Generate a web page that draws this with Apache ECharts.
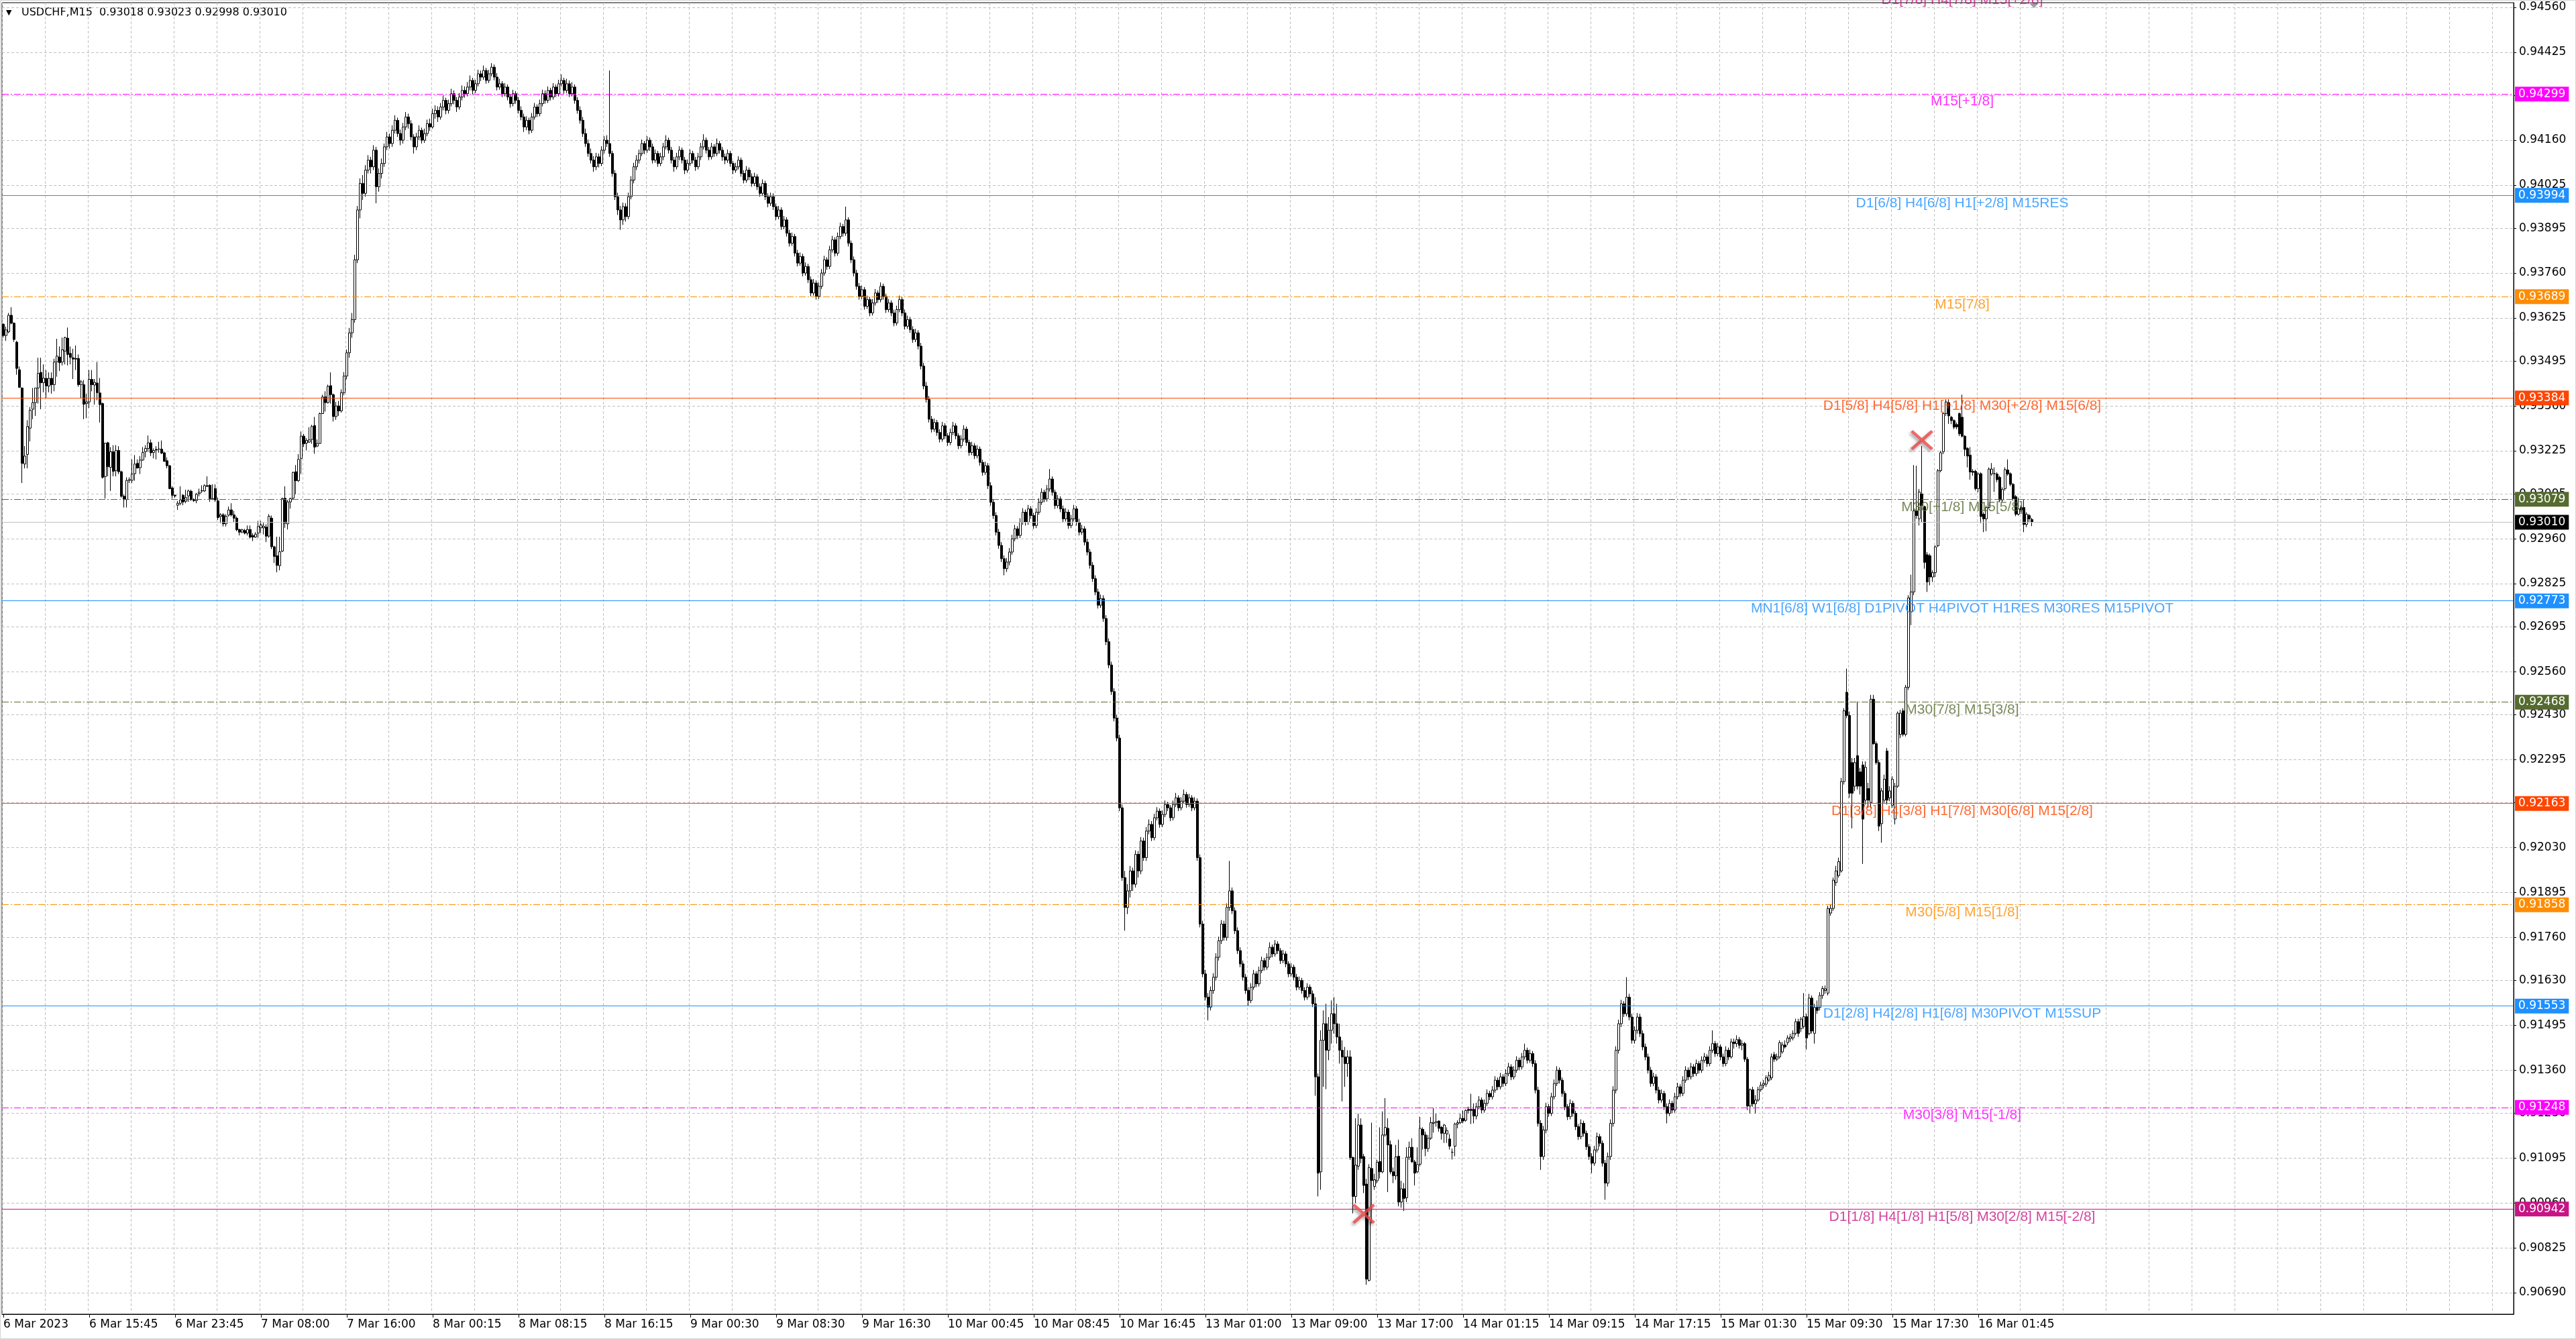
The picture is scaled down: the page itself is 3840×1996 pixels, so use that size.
<!DOCTYPE html>
<html><head><meta charset="utf-8">
<script src="https://cdn.jsdelivr.net/npm/echarts@6/dist/echarts.min.js"></script>
<style>html,body{margin:0;padding:0;background:#fff;overflow:hidden}#chart{width:3840px;height:1996px}</style>
</head><body><div id="chart"></div>
<script>
// ---------------- DATA ----------------
const symbolName = 'USDCHF,M15';
const timeLabels = ['6 Mar 2023','6 Mar 15:45','6 Mar 23:45','7 Mar 08:00','7 Mar 16:00','8 Mar 00:15','8 Mar 08:15','8 Mar 16:15','9 Mar 00:30','9 Mar 08:30','9 Mar 16:30','10 Mar 00:45','10 Mar 08:45','10 Mar 16:45','13 Mar 01:00','13 Mar 09:00','13 Mar 17:00','14 Mar 01:15','14 Mar 09:15','14 Mar 17:15','15 Mar 01:30','15 Mar 09:30','15 Mar 17:30','16 Mar 01:45'];
const priceTicks = [0.94560,0.94425,0.94295,0.94160,0.94025,0.93895,0.93760,0.93625,0.93495,0.93360,0.93225,0.93095,0.92960,0.92825,0.92695,0.92560,0.92430,0.92295,0.92165,0.92030,0.91895,0.91760,0.91630,0.91495,0.91360,0.91230,0.91095,0.90960,0.90825,0.90690];
const levelPrices = [0.94299,0.93994,0.93689,0.93384,0.93079,0.92773,0.92468,0.92163,0.91858,0.91553,0.91248,0.90942];
const levelTexts = ['M15[+1/8]','D1[6/8] H4[6/8] H1[+2/8] M15RES','M15[7/8]','D1[5/8] H4[5/8] H1[+1/8] M30[+2/8] M15[6/8]','M30[+1/8] M15[5/8]','MN1[6/8] W1[6/8] D1PIVOT H4PIVOT H1RES M30RES M15PIVOT','M30[7/8] M15[3/8]','D1[3/8] H4[3/8] H1[7/8] M30[6/8] M15[2/8]','M30[5/8] M15[1/8]','D1[2/8] H4[2/8] H1[6/8] M30PIVOT M15SUP','M30[3/8] M15[-1/8]','D1[1/8] H4[1/8] H1[5/8] M30[2/8] M15[-2/8]'];
const levelKinds = ['magenta','blue','orange','red','olive','blue','olive','red','orange','blue','magenta','violet'];
const topLevelPrice = 0.94604;
const topLevelText = 'D1[7/8] H4[7/8] M15[+2/8]';
const currentPrice = 0.93010;
const markerBars = [507, 715];
const markerPrices = [0.90928, 0.93257];
// bars: [open, high, low, close] in units of 0.00001 above 0.90000
const candles = [
[3606,3609,3566,3572],[3572,3599,3556,3589],[3583,3640,3579,3633],[3633,3657,3606,3609],[3609,3612,3553,3560],[3552,3556,3454,3473],[3469,3479,3414,3416],[3414,3416,3128,3187],
[3185,3239,3172,3209],[3214,3317,3172,3298],[3293,3357,3253,3347],[3350,3414,3320,3370],[3370,3414,3330,3414],[3414,3505,3367,3458],[3461,3505,3350,3430],[3430,3485,3401,3444],
[3443,3468,3384,3420],[3420,3461,3401,3443],[3443,3461,3397,3424],[3424,3502,3404,3492],[3493,3562,3448,3510],[3507,3539,3465,3490],[3492,3566,3482,3529],[3525,3568,3485,3566],
[3564,3596,3482,3515],[3518,3539,3485,3506],[3505,3532,3441,3501],[3503,3542,3468,3501],[3503,3515,3418,3424],[3424,3438,3384,3433],[3424,3438,3320,3365],[3367,3397,3323,3372],
[3372,3468,3354,3440],[3440,3468,3404,3424],[3423,3441,3364,3431],[3429,3492,3377,3400],[3399,3444,3310,3364],[3367,3370,3141,3145],[3147,3249,3081,3248],[3249,3252,3148,3177],
[3175,3236,3104,3222],[3222,3242,3148,3163],[3165,3242,3148,3226],[3226,3239,3155,3162],[3162,3165,3084,3088],[3088,3094,3054,3078],[3078,3145,3054,3136],[3136,3145,3128,3138],
[3136,3199,3128,3155],[3156,3212,3135,3185],[3187,3199,3172,3173],[3174,3209,3155,3197],[3197,3236,3195,3220],[3222,3242,3205,3232],[3232,3271,3222,3249],[3249,3259,3209,3219],
[3220,3232,3202,3226],[3229,3239,3199,3227],[3230,3252,3219,3230],[3230,3256,3215,3218],[3219,3222,3192,3193],[3195,3205,3172,3180],[3180,3182,3109,3111],[3113,3118,3081,3091],
[3091,3094,3084,3089],[3061,3074,3047,3067],[3067,3118,3061,3077],[3091,3094,3061,3071],[3073,3108,3067,3084],[3089,3108,3071,3104],[3103,3108,3074,3078],[3078,3082,3071,3075],
[3075,3098,3067,3094],[3096,3111,3088,3100],[3104,3121,3098,3105],[3104,3124,3101,3120],[3120,3148,3116,3118],[3121,3124,3071,3081],[3079,3124,3077,3081],[3111,3124,3071,3077],
[3074,3084,3017,3024],[3027,3037,3007,3032],[3032,3037,2997,3005],[3005,3034,2997,3028],[3031,3057,3027,3047],[3047,3067,3027,3032],[3032,3044,3010,3022],[3022,3027,2983,2987],
[2988,2990,2970,2980],[2980,2990,2977,2987],[2985,2990,2973,2977],[2977,3000,2970,2988],[2988,3000,2961,2965],[2970,2977,2953,2965],[2965,2980,2963,2974],[2977,3014,2963,2997],
[2993,3014,2977,3002],[2993,3008,2973,2998],[2995,3004,2950,2968],[2968,3034,2963,3028],[3022,3030,2929,2936],[2936,2939,2887,2907],[2909,2966,2859,2880],[2879,2966,2865,2921],
[2923,3084,2920,3081],[3082,3118,2993,3007],[3005,3077,2988,3071],[3071,3084,3051,3081],[3082,3162,3077,3160],[3162,3182,3094,3135],[3135,3215,3131,3199],[3202,3283,3155,3269],
[3269,3276,3236,3246],[3248,3263,3226,3256],[3251,3296,3249,3258],[3259,3303,3246,3298],[3301,3327,3216,3236],[3239,3259,3236,3247],[3247,3340,3246,3337],[3337,3394,3337,3387],
[3387,3404,3343,3370],[3370,3424,3367,3419],[3421,3461,3367,3394],[3394,3397,3313,3328],
[3328,3372,3318,3360],[3360,3375,3330,3345],[3345,3410,3340,3400],[3400,3462,3392,3450],[3450,3530,3440,3520],[3520,3595,3505,3580],[3580,3640,3565,3620],[3620,3815,3610,3800],
[3800,3962,3790,3950],[3950,4045,3925,4030],[4030,4055,3980,4000],[4000,4085,3990,4070],
[4070,4115,4060,4100],[4100,4110,4060,4080],[4080,4145,4070,4130],[4130,4140,3970,4020],[4020,4075,4005,4060],[4060,4105,4045,4090],[4090,4150,4080,4140],[4140,4185,4130,4170],
[4170,4180,4135,4150],[4150,4205,4140,4190],[4190,4235,4180,4220],[4220,4228,4170,4180],[4180,4192,4145,4160],[4160,4212,4150,4200],[4200,4245,4190,4230],[4230,4240,4195,4210],
[4210,4220,4160,4170],[4170,4178,4120,4140],[4140,4182,4130,4170],[4170,4205,4160,4190],[4190,4198,4150,4160],[4160,4195,4152,4180],[4180,4222,4172,4210],[4210,4225,4188,4200],
[4200,4255,4195,4240],[4240,4265,4225,4250],
[4250,4262,4215,4230],[4230,4272,4222,4260],[4260,4295,4250,4280],[4280,4288,4238,4250],[4250,4282,4240,4270],[4270,4315,4262,4300],[4300,4310,4268,4280],[4280,4290,4245,4260],
[4260,4302,4252,4290],[4290,4325,4280,4310],[4310,4322,4288,4300],[4300,4335,4292,4320],[4320,4355,4310,4340],[4340,4348,4298,4310],[4310,4342,4302,4330],[4330,4372,4322,4360],
[4360,4370,4338,4350],[4350,4385,4342,4370],[4370,4378,4330,4340],[4340,4372,4332,4360],[4360,4392,4352,4380],
[4380,4388,4340,4350],[4350,4362,4310,4320],[4320,4345,4312,4330],[4330,4338,4290,4300],[4300,4332,4292,4320],[4320,4328,4280,4290],[4290,4298,4258,4270],[4270,4312,4262,4300],
[4300,4308,4270,4280],[4280,4290,4240,4250],[4250,4262,4220,4230],[4230,4240,4185,4200],[4200,4232,4190,4220],[4220,4228,4178,4190],[4190,4242,4182,4230],[4230,4272,4222,4260],
[4260,4268,4230,4240],[4240,4282,4232,4270],[4270,4312,4262,4300],[4300,4310,4270,4280],[4280,4322,4272,4310],[4310,4318,4280,4290],[4290,4332,4282,4320],[4320,4328,4290,4300],
[4300,4342,4292,4330],[4330,4358,4322,4340],[4340,4348,4300,4310],[4310,4345,4302,4330],
[4330,4340,4290,4300],[4300,4335,4292,4320],[4320,4328,4270,4280],[4280,4290,4240,4250],[4250,4262,4210,4220],[4220,4230,4170,4180],[4180,4195,4140,4150],[4150,4162,4110,4120],
[4120,4135,4090,4100],[4100,4112,4065,4080],[4080,4122,4070,4110],[4110,4120,4078,4090],[4090,4142,4082,4130],[4130,4172,4120,4160],[4160,4175,4140,4150],[4150,4370,4110,4120],
[4120,4128,4050,4060],[4060,4070,3980,3990],[3990,4002,3935,3950],[3950,3962,3890,3920],[3920,3972,3905,3960],[3960,3970,3915,3930],[3930,4002,3922,3990],[3990,4052,3982,4040],
[4040,4092,4030,4080],[4080,4115,4070,4100],[4100,4132,4090,4120],
[4120,4162,4112,4150],[4150,4158,4118,4130],[4130,4172,4122,4160],[4160,4168,4128,4140],[4140,4150,4090,4100],[4100,4132,4092,4120],[4120,4128,4080,4090],[4090,4122,4082,4110],
[4110,4152,4100,4140],[4140,4175,4132,4160],[4160,4168,4120,4130],[4130,4140,4090,4100],[4100,4110,4065,4080],[4080,4122,4072,4110],[4110,4142,4100,4130],[4130,4138,4090,4100],
[4100,4110,4058,4070],[4070,4102,4062,4090],[4090,4132,4082,4120],[4120,4128,4090,4100],[4100,4110,4068,4080],[4080,4122,4072,4110],[4110,4152,4100,4140],[4140,4178,4132,4160],
[4160,4168,4120,4130],[4130,4140,4100,4110],[4110,4152,4102,4140],[4140,4148,4110,4120],[4120,4165,4112,4150],[4150,4158,4120,4130],[4130,4140,4098,4110],
[4110,4120,4088,4100],[4100,4132,4092,4120],[4120,4128,4080,4090],[4090,4098,4058,4070],[4070,4092,4062,4080],[4080,4112,4072,4100],[4100,4108,4050,4060],[4060,4070,4030,4040],
[4040,4082,4032,4070],[4070,4078,4040,4050],[4050,4060,4020,4030],[4030,4062,4022,4050],[4050,4058,4010,4020],[4020,4030,3990,4000],[4000,4042,3992,4030],[4030,4038,3980,3990],
[3990,4000,3958,3970],[3970,4002,3962,3990],
[3990,4000,3950,3960],[3960,3970,3920,3930],[3930,3962,3922,3950],[3950,3958,3890,3900],[3900,3932,3892,3920],[3920,3928,3870,3880],[3880,3890,3840,3850],[3850,3882,3842,3870],
[3870,3878,3810,3820],[3820,3830,3780,3790],[3790,3822,3782,3810],[3810,3818,3750,3760],[3760,3792,3752,3780],[3780,3788,3730,3740],[3740,3750,3690,3700],[3700,3742,3692,3730],
[3730,3738,3680,3690],[3690,3732,3682,3720],[3720,3772,3712,3760],
[3760,3812,3752,3800],[3800,3808,3770,3780],[3780,3842,3772,3830],[3830,3872,3822,3860],[3860,3868,3810,3820],[3820,3882,3812,3870],[3870,3912,3862,3900],[3900,3908,3870,3880],
[3880,3960,3872,3920],[3920,3928,3840,3850],[3850,3858,3790,3800],[3800,3810,3750,3760],
[3760,3770,3710,3720],[3720,3730,3680,3690],[3690,3722,3682,3710],[3710,3718,3650,3660],[3660,3692,3652,3680],[3680,3688,3630,3640],[3640,3682,3632,3670],[3670,3712,3662,3700],
[3700,3708,3670,3680],[3680,3732,3672,3720],[3720,3728,3680,3690],[3690,3698,3640,3650],[3650,3682,3642,3670],[3670,3678,3630,3640],[3640,3650,3600,3610],[3610,3662,3602,3650],
[3650,3692,3642,3680],[3680,3688,3630,3640],[3640,3650,3590,3600],[3600,3632,3592,3620],[3620,3628,3580,3590],[3590,3600,3550,3560],[3560,3592,3552,3580],[3580,3588,3530,3540],
[3540,3550,3470,3480],[3480,3490,3410,3420],[3420,3432,3370,3380],[3380,3390,3310,3320],[3320,3330,3280,3290],[3290,3322,3282,3310],[3310,3318,3270,3280],[3280,3290,3250,3260],
[3260,3312,3252,3300],[3300,3308,3260,3270],
[3270,3278,3240,3250],[3250,3292,3242,3280],[3280,3312,3272,3300],[3300,3308,3260,3270],[3270,3278,3230,3240],[3240,3272,3232,3260],[3260,3302,3252,3290],[3290,3298,3240,3250],
[3250,3258,3210,3220],[3220,3252,3212,3240],[3240,3248,3200,3210],[3210,3242,3202,3230],[3230,3238,3180,3190],[3190,3198,3150,3160],[3160,3192,3152,3180],
[3180,3188,3110,3120],[3120,3130,3060,3070],[3070,3080,3020,3030],[3030,3040,2970,2980],[2980,2990,2930,2940],[2940,2950,2890,2900],[2900,2910,2850,2870],[2870,2902,2860,2890],
[2890,2932,2880,2920],
[2920,2972,2912,2960],[2960,3002,2952,2990],[2990,2998,2960,2970],[2970,3022,2962,3010],[3010,3052,3002,3040],[3040,3048,3000,3010],[3010,3062,3002,3050],[3050,3058,3020,3030],
[3030,3038,2990,3000],[3000,3052,2992,3040],[3040,3082,3032,3070],[3070,3112,3062,3100],[3100,3108,3070,3080],[3080,3122,3072,3110],[3110,3170,3102,3140],[3140,3148,3090,3100],
[3100,3108,3050,3060],[3060,3092,3052,3080],
[3080,3088,3040,3050],[3050,3060,3010,3020],[3020,3052,3012,3040],[3040,3048,2990,3000],[3000,3032,2992,3020],[3020,3062,3012,3050],[3050,3058,3000,3010],[3010,3020,2970,2980],
[2980,3002,2972,2990],[2990,2998,2940,2950],[2950,2960,2910,2920],[2920,2930,2870,2880],[2880,2890,2830,2840],
[2840,2850,2790,2800],[2800,2810,2750,2760],[2760,2792,2752,2780],[2780,2790,2710,2720],[2720,2730,2640,2650],[2650,2660,2570,2580],[2580,2590,2490,2500],[2500,2510,2410,2420],
[2420,2430,2350,2360],
[2360,2370,2140,2150],[2150,2160,1930,1940],[1940,1960,1780,1850],[1850,1920,1830,1900],[1900,1975,1880,1960],
[1960,1970,1900,1920],[1920,2022,1910,2010],[2010,2020,1940,1960],[1960,2062,1950,2050],[2050,2060,1990,2000],[2000,2092,1990,2080],[2080,2115,2070,2100],
[2100,2110,2050,2060],[2060,2132,2052,2120],[2120,2152,2112,2140],[2140,2148,2090,2100],[2100,2142,2092,2130],[2130,2172,2122,2160],[2160,2168,2140,2150],[2150,2158,2110,2120],
[2120,2172,2112,2160],[2160,2195,2152,2180],[2180,2188,2140,2150],[2150,2182,2142,2170],[2170,2205,2162,2190],[2190,2198,2150,2160],[2160,2192,2152,2180],[2180,2188,2140,2150],
[2150,2182,2142,2170],
[2170,2178,1990,2000],[2000,2010,1790,1800],[1800,1810,1640,1650],[1650,1662,1570,1580],[1580,1592,1510,1550],[1550,1612,1540,1600],[1600,1652,1590,1640],[1640,1712,1630,1700],
[1700,1762,1690,1750],[1750,1812,1740,1800],[1800,1810,1750,1760],[1760,1862,1750,1850],[1850,1990,1840,1900],[1900,1910,1830,1840],[1840,1850,1770,1780],[1780,1790,1710,1720],
[1720,1730,1670,1680],
[1680,1690,1630,1640],[1640,1650,1590,1600],[1600,1610,1555,1570],[1570,1622,1562,1610],[1610,1662,1602,1650],[1650,1658,1610,1620],[1620,1672,1612,1660],[1660,1702,1652,1690],
[1690,1698,1660,1670],[1670,1712,1662,1700],[1700,1745,1692,1730],[1730,1738,1700,1710],[1710,1752,1702,1740],[1740,1748,1710,1720],[1720,1728,1680,1690],[1690,1722,1682,1710],
[1710,1718,1670,1680],[1680,1688,1640,1650],[1650,1682,1642,1670],[1670,1678,1630,1640],[1640,1650,1600,1610],[1610,1642,1602,1630],[1630,1638,1590,1600],[1600,1610,1570,1580],
[1580,1622,1572,1610],[1610,1618,1580,1590],[1590,1600,1550,1560],
[1560,1580,1283,1340],[1340,1350,980,1050],[1054,1480,1000,1450],[1450,1540,1310,1500],[1500,1560,1303,1420],[1420,1520,1390,1480],[1480,1570,1440,1530],[1530,1580,1470,1500],
[1500,1560,1440,1460],[1460,1500,1380,1420],[1420,1450,1266,1400],[1400,1430,1310,1380],[1380,1420,1340,1400],[1400,1420,1090,1097],[1097,1100,929,980],[980,1215,960,1074],
[1071,1229,1060,1195],[1195,1215,1080,1094],[1100,1108,990,1013],[1017,1033,714,731],[727,1077,724,1067],[1064,1202,899,1028],[1010,1048,1000,1030],[1027,1090,1020,1083],
[1085,1188,1034,1054],[1054,1236,1050,1165],[1165,1276,1160,1188],[1185,1215,993,1135],[1136,1148,1047,1054],[1054,1067,1020,1042],[1042,1135,1030,1099],[1101,1151,950,963],
[963,1027,946,1003],[1003,1020,936,974],[976,1128,963,1098],[1098,1145,1090,1128],[1128,1155,1081,1084],[1084,1090,1013,1050],[1054,1128,1050,1076],[1077,1219,1070,1185],
[1182,1188,1121,1165],[1165,1175,1101,1124],[1124,1165,1114,1155],[1155,1219,1150,1202],[1200,1246,1172,1203],[1203,1229,1190,1205],[1207,1209,1175,1185],[1188,1192,1151,1170],
[1170,1198,1141,1195],[1168,1188,1141,1178],[1153,1168,1121,1131],[1113,1124,1091,1113],[1131,1202,1101,1198],[1198,1209,1185,1202],[1202,1229,1198,1215],[1215,1239,1200,1207],
[1209,1242,1205,1239],[1242,1250,1230,1239],[1242,1289,1198,1239],[1242,1260,1200,1222],
[1222,1262,1212,1250],[1250,1282,1242,1270],[1270,1278,1230,1240],[1240,1272,1232,1260],[1260,1302,1252,1290],[1290,1298,1270,1280],[1280,1312,1272,1300],[1300,1342,1292,1330],
[1330,1338,1300,1310],[1310,1352,1302,1340],[1340,1348,1310,1320],[1320,1362,1312,1350],[1350,1382,1342,1370],[1370,1378,1330,1340],[1340,1372,1332,1360],[1360,1402,1352,1390],
[1390,1398,1360,1370],[1370,1412,1362,1400],[1400,1440,1392,1420],[1420,1428,1380,1390],[1390,1422,1382,1410],[1410,1418,1370,1380],
[1380,1390,1290,1300],[1300,1310,1190,1200],[1200,1210,1060,1100],[1100,1192,1090,1180],[1180,1262,1170,1250],[1250,1258,1220,1230],[1230,1292,1222,1280],[1280,1332,1272,1320],
[1320,1372,1312,1360],[1360,1368,1320,1330],[1330,1338,1280,1290],[1290,1298,1240,1250],[1250,1258,1210,1220],[1220,1272,1212,1260],[1260,1268,1220,1230],[1230,1238,1180,1190],
[1190,1198,1150,1160],[1160,1212,1152,1200],[1200,1208,1160,1170],[1170,1178,1120,1130],[1130,1138,1090,1100],[1100,1110,1050,1080],[1080,1132,1072,1120],[1120,1172,1112,1160],
[1160,1168,1130,1140],[1140,1148,1070,1080],[1080,1090,970,1020],[1020,1112,1010,1100],
[1100,1212,1090,1200],[1200,1312,1190,1300],[1300,1432,1290,1420],[1420,1512,1410,1500],[1500,1572,1490,1560],[1560,1568,1520,1530],[1530,1640,1522,1580],[1580,1590,1510,1520],
[1520,1530,1440,1450],[1450,1492,1440,1480],[1480,1532,1470,1520],[1520,1530,1460,1470],[1470,1480,1420,1430],
[1430,1440,1390,1400],[1400,1410,1350,1360],[1360,1370,1310,1320],[1320,1352,1312,1340],[1340,1348,1290,1300],[1300,1310,1260,1270],[1270,1302,1262,1290],[1290,1298,1240,1250],
[1250,1260,1200,1230],[1230,1272,1222,1260],[1260,1268,1230,1240],[1240,1292,1232,1280],[1280,1322,1272,1310],[1310,1318,1280,1290],[1290,1342,1282,1330],[1330,1372,1322,1360],
[1360,1368,1330,1340],[1340,1382,1332,1370],[1370,1378,1340,1350],[1350,1392,1342,1380],[1380,1388,1350,1360],[1360,1402,1352,1390],[1390,1412,1382,1400],[1400,1408,1370,1380],
[1380,1432,1372,1420],[1420,1480,1412,1440],[1440,1448,1400,1410],[1410,1442,1402,1430],[1430,1438,1390,1400],[1400,1410,1370,1380],[1380,1432,1372,1420],[1420,1428,1390,1400],
[1400,1455,1395,1445],[1445,1455,1425,1440],[1440,1465,1430,1452],[1452,1460,1425,1435],[1435,1450,1420,1440],[1440,1445,1385,1393],
[1393,1400,1240,1252],[1252,1305,1230,1301],[1301,1310,1250,1259],[1259,1285,1230,1270],[1270,1310,1265,1301],[1301,1325,1295,1315],[1315,1330,1305,1320],[1318,1345,1310,1337],
[1330,1355,1325,1344],[1337,1410,1330,1400],[1407,1415,1385,1393],[1393,1410,1388,1400],[1400,1450,1395,1443],[1415,1445,1410,1436],[1436,1450,1425,1430],[1443,1465,1435,1457],
[1455,1470,1445,1460],[1457,1480,1450,1471],[1471,1515,1465,1506],[1506,1515,1460,1471],[1485,1520,1475,1514],[1492,1592,1485,1521],[1521,1530,1422,1457],[1470,1590,1465,1577],
[1577,1585,1470,1478],[1471,1560,1440,1549],[1549,1570,1530,1540],[1549,1595,1540,1585],[1585,1613,1575,1606],[1600,1615,1590,1605],[1592,1855,1585,1847],[1833,1860,1825,1847],
[1847,1940,1840,1932],[1925,1975,1915,1960],[1946,2000,1940,1988],[1960,2240,1955,2229],[2229,2450,2220,2442],[2498,2569,2420,2428],[2428,2440,2180,2194],[2286,2300,2088,2194],
[2215,2300,2200,2286],[2307,2470,2205,2215],[2258,2270,2190,2215],[2279,2290,1981,2116],[2173,2290,2160,2272],[2208,2225,2150,2173],[2166,2490,2150,2477],[2477,2490,2340,2343],
[2343,2350,2280,2286],[2286,2295,2080,2095],[2102,2210,2045,2201],[2173,2250,2165,2236],[2321,2330,2160,2173],[2180,2215,2170,2201],[2158,2245,2150,2236],[2116,2225,2100,2215],
[2215,2440,2210,2435],[2371,2445,2360,2435],[2442,2450,2365,2371],[2371,2520,2365,2513],[2513,2790,2505,2782],[2740,2852,2700,2800],[2800,3182,2790,3044],[3044,3180,3020,3030],
[3020,3110,3000,3101],[3095,3239,3010,3060],[3057,3060,2870,2889],[2912,2920,2800,2830],[2909,2915,2820,2845],[2845,2865,2830,2858],[2858,2940,2845,2936],[2939,3170,2935,3165],
[3165,3225,3160,3219],[3222,3340,3215,3337],[3337,3380,3330,3372],[3370,3380,3306,3330],[3326,3330,3305,3316],[3316,3320,3290,3296],[3304,3310,3290,3297],[3337,3340,3269,3276],
[3326,3394,3265,3269],[3269,3272,3209,3229],[3232,3236,3175,3209],[3212,3236,3138,3161],[3163,3170,3150,3160],[3163,3168,3105,3111],[3111,3160,3100,3155],[3156,3160,3007,3027],
[3034,3040,2980,3020],[3020,3060,2983,3054],[3054,3175,3050,3170],[3155,3188,3150,3170],[3156,3175,3101,3156],[3155,3160,3130,3138],[3145,3150,3070,3077],[3077,3115,3070,3109],
[3111,3175,3105,3168],[3167,3199,3150,3155],[3156,3160,3118,3124],[3124,3128,3075,3081],[3087,3092,3028,3034],[3034,3084,3030,3050],[3054,3060,3040,3047],[3054,3077,2980,3003],
[3003,3040,2995,3034],[3030,3035,3010,3020],[3018,3023,2998,3010]
];

// ---------------- STYLES ----------------
const levelStyles = {
  magenta: { color: '#FF00FF', type: [10, 3, 2, 3] },
  blue:    { color: '#1E90FF', type: 'solid' },
  orange:  { color: '#FF8C00', type: [10, 3, 2, 3] },
  red:     { color: '#FF4500', type: 'solid' },
  olive:   { color: '#556B2F', type: [10, 3, 2, 3] },
  violet:  { color: '#C71585', type: 'solid' }
};
const EMPTY_SLOTS = 179;     // chart shift space on the right
const LABEL_STEP = 32;       // bars between time labels
const GRID_STEP = 16;        // bars between vertical grid lines
const LABEL_ANCHOR_BAR = 730;

const px = v => +(0.9 + v / 1e5).toFixed(5);
const slotCount = candles.length + EMPTY_SLOTS;
const categories = Array.from({ length: slotCount }, (_, i) => String(i));
const ohlcData = candles.map(r => [px(r[0]), px(r[3]), px(r[2]), px(r[1])]);
const last = candles[candles.length - 1];

const markLineData = levelPrices.map((p, i) => {
  const st = levelStyles[levelKinds[i]];
  return { yAxis: p, lineStyle: { color: st.color, type: st.type, width: 1 }, label: { backgroundColor: st.color } };
});
markLineData.push({ yAxis: currentPrice, lineStyle: { color: '#C0C0C0', type: 'solid', width: 1 }, label: { backgroundColor: '#000000' } });

const labelData = levelPrices.map((p, i) => ({
  value: [LABEL_ANCHOR_BAR, p], name: levelTexts[i],
  label: { color: levelStyles[levelKinds[i]].color }
}));
labelData.push({ value: [LABEL_ANCHOR_BAR, topLevelPrice], name: topLevelText, label: { color: '#C71585' } });

const isLabelIdx = i => i % LABEL_STEP === 0 && i / LABEL_STEP < timeLabels.length;
const titleText = symbolName + '  ' + [last[0], last[1], last[2], last[3]].map(v => px(v).toFixed(5)).join(' ');

const chart = echarts.init(document.getElementById('chart'), null, { renderer: 'canvas', width: 3840, height: 1996 });
const baseGraphic = [
  { type: 'rect', shape: { x: 0.5, y: 0.5, width: 3839, height: 1995 }, style: { fill: 'none', stroke: '#d4d4d4', lineWidth: 1 }, silent: true },
  { type: 'text', x: 9, y: 19, style: { text: '\u25BC', fontSize: 11, fill: '#000', verticalAlign: 'middle', fontFamily: 'DejaVu Sans' }, silent: true },
  { type: 'text', x: 32, y: 19, style: { text: titleText, fontSize: 16, fill: '#000', verticalAlign: 'middle', fontFamily: 'DejaVu Sans' }, silent: true }
];
const option = {
  animation: false,
  backgroundColor: '#ffffff',
  textStyle: { fontFamily: 'DejaVu Sans' },
  grid: { left: 3, right: 93, top: 4, bottom: 37, show: true, borderColor: '#000', borderWidth: 1, backgroundColor: '#fff' },
  xAxis: {
    type: 'category', data: categories, boundaryGap: true,
    axisLine: { show: true, lineStyle: { color: '#000', width: 1 } },
    axisTick: { show: true, alignWithLabel: true, length: 5, interval: (i) => isLabelIdx(i), lineStyle: { color: '#000' } },
    axisLabel: { show: true, interval: (i) => isLabelIdx(i), formatter: (v, i) => timeLabels[i / LABEL_STEP] || '',
      align: 'left', margin: 7, color: '#000', fontFamily: 'DejaVu Sans', fontSize: 17 },
    splitLine: { show: true, interval: (i) => i % GRID_STEP === 0, lineStyle: { color: '#C0C0C0', type: [4, 3], width: 1 } }
  },
  yAxis: {
    type: 'value', position: 'right', min: 0.906254, max: 0.945741,
    axisLine: { show: true, lineStyle: { color: '#000' } },
    axisTick: { show: true, length: 4, customValues: priceTicks, lineStyle: { color: '#000' } },
    axisLabel: { show: true, customValues: priceTicks, formatter: v => v.toFixed(5), color: '#000', fontFamily: 'DejaVu Sans', fontSize: 17, margin: 8 },
    splitLine: { show: true, lineStyle: { color: '#C0C0C0', type: [4, 3], width: 1 } }
  },
  series: [
    {
      type: 'candlestick', name: symbolName, data: ohlcData, large: false, barWidth: 3,
      itemStyle: { color: '#ffffff', color0: '#000000', borderColor: '#000000', borderColor0: '#000000', borderColorDoji: '#000000', borderWidth: 1 },
      markLine: {
        silent: true, symbol: ['none', 'none'], animation: false, precision: 5,
        label: { show: true, position: 'end', distance: 2, formatter: p => Number(p.value).toFixed(5), color: '#fff',
          fontFamily: 'DejaVu Sans', fontSize: 17, padding: [3, 5, 2, 5] },
        emphasis: { disabled: true },
        data: markLineData
      }
    },
    {
      type: 'scatter', name: 'levels', data: labelData, symbolSize: 0, clip: false, silent: true, z: 4,
      label: { show: true, position: 'bottom', distance: 1, formatter: d => d.name, fontFamily: 'Liberation Sans', fontSize: 21 }
    },
    {
      type: 'scatter', name: 'marks', silent: true, z: 5,
      data: markerBars.map((b, i) => [b, markerPrices[i]]),
      symbol: 'path://M3,0 L15,12 L27,0 L30,3 L18,15 L30,27 L27,30 L15,18 L3,30 L0,27 L12,15 L0,3 Z',
      symbolSize: [34, 30],
      itemStyle: { color: '#F04848', shadowBlur: 4, shadowColor: 'rgba(0,0,0,0.45)', shadowOffsetX: -2, shadowOffsetY: 3 }
    }
  ],
  graphic: baseGraphic
};
chart.setOption(option);
const shiftPt = chart.convertToPixel({ seriesIndex: 0 }, [candles.length - 1, currentPrice]);
chart.setOption({ graphic: baseGraphic.concat([
  { type: 'polygon', shape: { points: [[shiftPt[0] - 5, 4], [shiftPt[0] + 11, 4], [shiftPt[0] + 3, 12]] }, style: { fill: '#A0A0A0' }, silent: true }
]) });
</script>
</body></html>
